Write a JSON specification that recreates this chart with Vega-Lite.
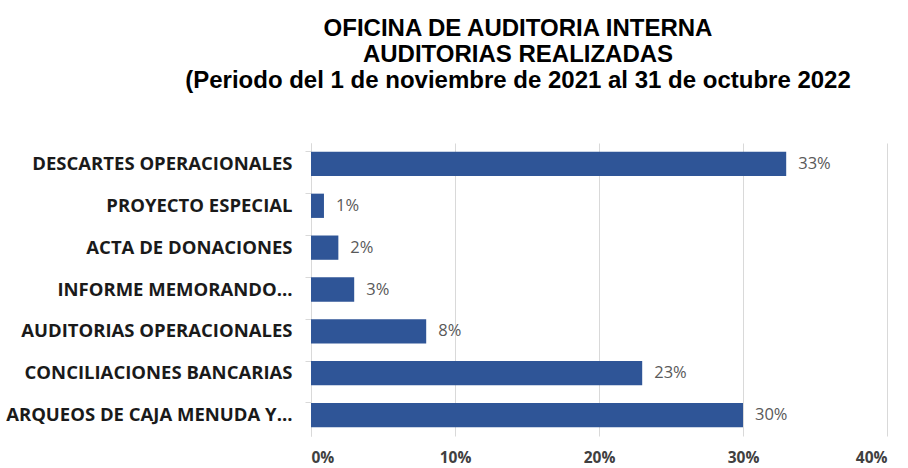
{
  "$schema": "https://vega.github.io/schema/vega-lite/v6.json",
  "autosize": "none",
  "width": 576,
  "height": 293,
  "padding": {"left": 311, "top": 143, "right": 21, "bottom": 32},
  "background": "white",
  "title": {
    "text": ["OFICINA DE AUDITORIA INTERNA", "AUDITORIAS REALIZADAS", "(Periodo del 1 de noviembre de 2021 al 31 de octubre 2022"],
    "anchor": "middle",
    "frame": "group",
    "dx": -81,
    "offset": 50,
    "font": "Liberation Sans",
    "fontSize": 24,
    "fontWeight": "bold",
    "lineHeight": 26,
    "color": "#000000"
  },
  "data": {
    "values": [
      {"categoria": "DESCARTES OPERACIONALES", "valor": 0.33},
      {"categoria": "PROYECTO ESPECIAL", "valor": 0.009},
      {"categoria": "ACTA DE DONACIONES", "valor": 0.019},
      {"categoria": "INFORME MEMORANDO...", "valor": 0.03},
      {"categoria": "AUDITORIAS OPERACIONALES", "valor": 0.08},
      {"categoria": "CONCILIACIONES BANCARIAS", "valor": 0.23},
      {"categoria": "ARQUEOS DE CAJA MENUDA Y...", "valor": 0.30}
    ]
  },
  "encoding": {
    "y": {
      "field": "categoria",
      "type": "nominal",
      "sort": null,
      "scale": {"paddingInner": 0.42, "paddingOuter": 0.21},
      "axis": {
        "title": null,
        "bandPosition": 0,
        "domainColor": "#d9d9d9",
        "tickColor": "#d9d9d9",
        "tickSize": 6,
        "labelPadding": 13,
        "labelFont": "Open Sans",
        "labelFontSize": 18.5,
        "labelFontWeight": "bold",
        "labelColor": "#1a1a1a",
        "labelLimit": 320,
        "grid": false
      }
    },
    "x": {
      "field": "valor",
      "type": "quantitative",
      "scale": {"domain": [0, 0.4], "nice": false},
      "axis": {
        "title": null,
        "format": ".0%",
        "values": [0, 0.1, 0.2, 0.3, 0.4],
        "domain": false,
        "ticks": false,
        "grid": true,
        "gridColor": "#d9d9d9",
        "labelPadding": 26,
        "labelFont": "Open Sans",
        "labelFontSize": 15.5,
        "labelFontWeight": "bold",
        "labelColor": "#404040",
        "labelBaseline": "alphabetic"
      }
    }
  },
  "layer": [
    {"mark": {"type": "bar", "color": "#2F5597"}},
    {
      "mark": {"type": "text", "align": "left", "dx": 12, "font": "Open Sans", "fontSize": 16.5, "color": "#595959"},
      "encoding": {"text": {"field": "valor", "type": "quantitative", "format": ".0%"}}
    }
  ],
  "config": {"view": {"stroke": null}}
}
